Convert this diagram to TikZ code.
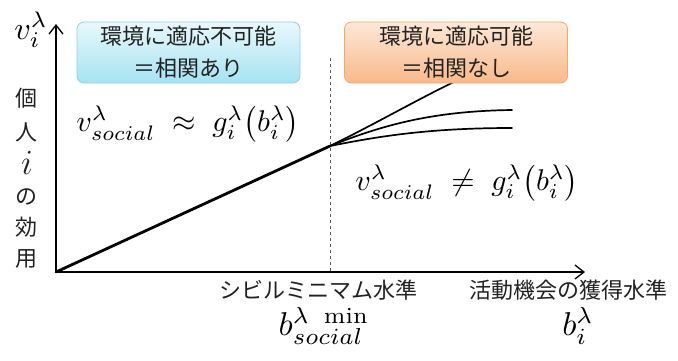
\documentclass[tikz,border=0pt]{standalone}
\usepackage{fontspec}
\usepackage{amsmath,amssymb}
\newfontfamily\jpfont{Noto Sans CJK JP}
\usetikzlibrary{arrows.meta, positioning}
\definecolor{nofitblue}{HTML}{A6E3F2}
\definecolor{nofittop}{HTML}{E8F8FC}
\definecolor{nofitedge}{HTML}{8ECFE0}
\definecolor{fitorange}{HTML}{F9B98A}
\definecolor{fittop}{HTML}{FDE8D8}
\definecolor{fitedge}{HTML}{F4A868}
\definecolor{jptext}{HTML}{222222}
% math scaled up to the size of the figure
\newcommand{\bigmath}[2]{\scalebox{#1}{$#2$}}
\tikzset{
  % Axes
  axisline/.style={line width=2pt, -{Straight Barb[length=9pt, width=14pt, line width=1.3pt]}},
  % Utility curves
  utilline/.style={line width=2.8pt, line cap=round},
  branchline/.style={line width=1.7pt, line cap=round},
  % Threshold guide
  guideline/.style={line width=0.8pt, dashed, gray!70!black},
  % Condition boxes
  condbox/.style={
    rectangle, rounded corners=7pt, minimum width=223pt, minimum height=61pt,
    inner sep=0pt, align=center, font=\jpfont\fontsize{22}{32}\selectfont,
    text=jptext, line width=0.8pt, draw=#1edge, top color=#1top, bottom color=#1bottom,
  },
  % Japanese labels
  jplabel/.style={font=\jpfont\fontsize{22}{24}\selectfont, text=jptext, inner sep=0pt},
  % Formulas
  formula/.style={inner sep=0pt},
}
\colorlet{nofitbottom}{nofitblue}
\colorlet{fitbottom}{fitorange}

\begin{document}
\begin{tikzpicture}[x=1pt, y=-1pt]
  \useasboundingbox (0,0) rectangle (678,360);

  % Key points
  \coordinate (origin) at (56,272);
  \coordinate (ytop) at (56,24);
  \coordinate (xend) at (585,272);
  \coordinate (kink) at (330,146);
  \coordinate (guidetop) at (330,58);
  \coordinate (guidebot) at (330,272);
  \coordinate (hiend) at (462,78);
  \coordinate (midend) at (512,110);
  \coordinate (loend) at (512,128);

  % Branches after threshold
  \draw[branchline] (kink) .. controls (375,124) and (420,98) .. (hiend);
  \draw[branchline] (kink) .. controls (385,124) and (435,111) .. (midend);
  \draw[branchline] (kink) .. controls (380,136) and (430,128) .. (loend);

  % Condition boxes
  \node[condbox=nofit] (nofitbox) at (188.5,52.5) {環境に適応不可能\\＝相関あり};
  \node[condbox=fit] (fitbox) at (456,52.5) {環境に適応可能\\＝相関なし};

  % Threshold and linear part
  \draw[guideline] (guidetop) -- (guidebot);
  \draw[utilline] (origin) -- (kink);

  % Axes
  \draw[axisline] (origin) -- (ytop);
  \draw[axisline] ([xshift=-1pt]origin) -- (xend);

  % Axis labels
  \node[formula] (vlabel) at (31,30) {\bigmath{3.2}{v_{i}^{\lambda}}};
  \node[jplabel, align=center] (ylabel) at (27,178)
    {個\\[10pt]人\\[8pt]\bigmath{1.7}{i}\\[6pt]の\\[7pt]効\\[7pt]用};
  \node[jplabel] (civil) at (318,290) {シビルミニマム水準};
  \node[jplabel] (bilevel) at (568,290) {活動機会の獲得水準};
  \node[formula] (bmin) at (324,326) {\bigmath{3.3}{b_{social}^{\lambda\ \min}}};
  \node[formula] (bi) at (578,326) {\bigmath{3.3}{b_{i}^{\lambda}}};

  % Relations
  \node[formula] (nearrel) at (188,124)
    {\bigmath{3}{v_{social}^{\lambda}\;\approx\; g_{i}^{\lambda}\bigl(b_{i}^{\lambda}\bigr)}};
  \node[formula] (neqrel) at (467,183)
    {\bigmath{3}{v_{social}^{\lambda}\;\neq\; g_{i}^{\lambda}\bigl(b_{i}^{\lambda}\bigr)}};
\end{tikzpicture}
\end{document}
